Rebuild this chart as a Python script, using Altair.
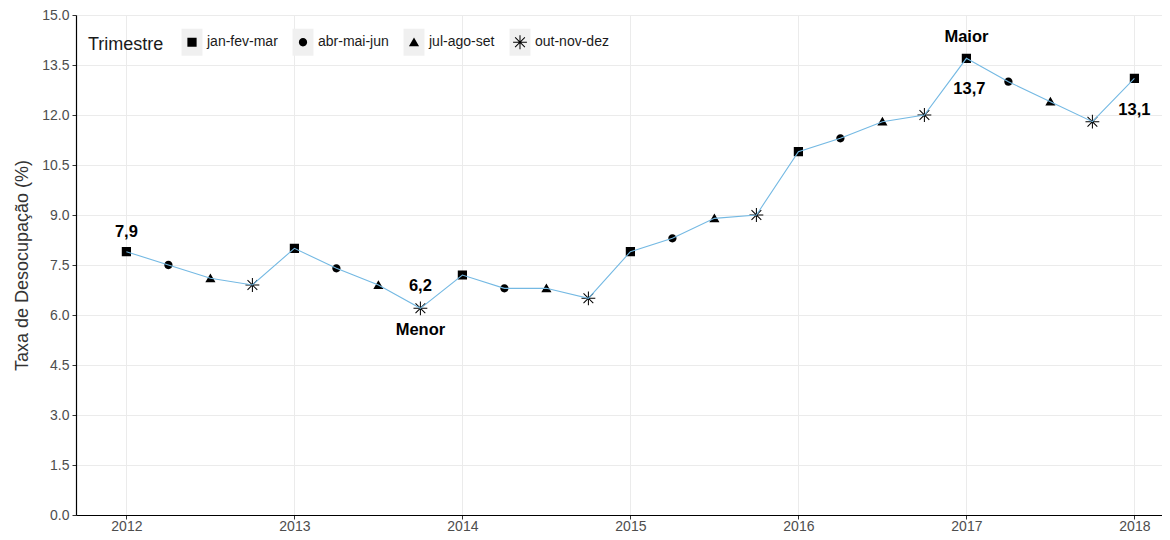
import altair as alt
import pandas as pd

tempo = [2012.0, 2012.25, 2012.5, 2012.75,
         2013.0, 2013.25, 2013.5, 2013.75,
         2014.0, 2014.25, 2014.5, 2014.75,
         2015.0, 2015.25, 2015.5, 2015.75,
         2016.0, 2016.25, 2016.5, 2016.75,
         2017.0, 2017.25, 2017.5, 2017.75,
         2018.0]
taxa = [7.9, 7.5, 7.1, 6.9,
        8.0, 7.4, 6.9, 6.2,
        7.2, 6.8, 6.8, 6.5,
        7.9, 8.3, 8.9, 9.0,
        10.9, 11.3, 11.8, 12.0,
        13.7, 13.0, 12.4, 11.8,
        13.1]
trimestres = ["jan-fev-mar", "abr-mai-jun", "jul-ago-set", "out-nov-dez"]
trimestre = [trimestres[i % 4] for i in range(len(taxa))]

anos_ticks = [2012, 2013, 2014, 2015, 2016, 2017, 2018]
y_ticks = [0.0, 1.5, 3.0, 4.5, 6.0, 7.5, 9.0, 10.5, 12.0, 13.5, 15.0]

ann_t = [2012.0, 2013.75, 2013.75, 2017.0, 2017.0, 2018.0]
ann_v = [7.9, 6.2, 6.2, 13.7, 13.7, 13.1]
ann_txt = ["7,9", "6,2", "Menor", "Maior", "13,7", "13,1"]
ann_dx = [0, 0, 0, 0, 3, 0]
ann_dy = [-20, -22, 22, -21, 31, 32]

df = pd.DataFrame({"tempo": tempo, "taxa": taxa,
                   "Trimestre": trimestre, "fundo": trimestre})

# ---- symbol geometry (styling) ----
SYM = 85
U = SYM ** 0.5 / 2          # px per path unit
BW, BH = 10.5 / U, 13.5 / U  # half width/height of gray legend key box
corners = f"M{-BW:.3f},{-BH:.3f}L{-BW:.3f},{-BH:.3f}M{BW:.3f},{BH:.3f}L{BW:.3f},{BH:.3f}"
sq = "M-1,-1L1,-1L1,1L-1,1Z" + corners
ci = "M0.9,0A0.9,0.9,0,1,1,-0.9,0A0.9,0.9,0,1,1,0.9,0Z" + corners
tr = "M0,-1.05L1.1,0.85L-1.1,0.85Z" + corners
a, t = 1.5, 0.11
d, e = 1.06, 0.078
ast = (f"M{-a},{-t}L{a},{-t}L{a},{t}L{-a},{t}Z"
       f"M{-t},{-a}L{t},{-a}L{t},{a}L{-t},{a}Z"
       f"M{-d+e},{-d-e}L{d+e},{d-e}L{d-e},{d+e}L{-d-e},{-d+e}Z"
       f"M{-d-e},{d-e}L{d-e},{-d-e}L{d+e},{-d+e}L{-d+e},{d+e}Z") + corners
box = f"M{-BW:.3f},{-BH:.3f}L{BW:.3f},{-BH:.3f}L{BW:.3f},{BH:.3f}L{-BW:.3f},{BH:.3f}Z"

PW = 1086
xscale = alt.Scale(domain=[2011.7, 2011.7 + PW / 168.0], nice=False, zero=False)
yscale = alt.Scale(domain=[0, 15], nice=False)

x = alt.X("tempo:Q", scale=xscale,
          axis=alt.Axis(values=anos_ticks, format="d", title=None, labelPadding=0))
y = alt.Y("taxa:Q", scale=yscale,
          axis=alt.Axis(values=y_ticks, format=".1f",
                        title="Taxa de Desocupação (%)", labelPadding=3))

base = alt.Chart(df)

common = dict(orient="none", direction="horizontal", columns=4,
              legendX=12, legendY=20,
              titleOrient="left", title="Trimestre",
              titleFontSize=18, titleFontWeight="normal",
              titleColor="#1a1a1a", titlePadding=21,
              labelFontSize=14, labelColor="#1a1a1a",
              labelOffset=8, columnPadding=14,
              symbolSize=SYM, symbolStrokeWidth=0)

bg = base.mark_point(filled=True, size=0, opacity=1).encode(
    x=x, y=y,
    color=alt.Color("fundo:N",
                    scale=alt.Scale(domain=trimestres, range=["#f0f0f0"] * 4),
                    legend=alt.Legend(symbolType=box, **common)),
)

line = base.mark_line(color="#74b9e3", strokeWidth=1.1).encode(x=x, y=y)

points = base.mark_point(filled=True, color="black", opacity=1, size=SYM,
                         strokeWidth=0).encode(
    x=x, y=y,
    shape=alt.Shape("Trimestre:N",
                    scale=alt.Scale(domain=trimestres, range=[sq, ci, tr, ast]),
                    legend=alt.Legend(symbolFillColor="black",
                                      labelOpacity=0, titleOpacity=0, **common)),
)

def label(tt, v, txt, dx, dy):
    dd = pd.DataFrame({"tempo": [tt], "taxa": [v], "txt": [txt]})
    return alt.Chart(dd).mark_text(fontSize=16.5, fontWeight="bold", color="black",
                                   dx=dx, dy=dy).encode(
        x=alt.X("tempo:Q", scale=xscale), y=alt.Y("taxa:Q", scale=yscale),
        text="txt:N")

labels = [label(tt, v, s, dx, dy) for tt, v, s, dx, dy in
          zip(ann_t, ann_v, ann_txt, ann_dx, ann_dy)]

chart = alt.layer(bg, points, line, *labels).properties(
    width=PW, height=500,
    autosize=alt.AutoSizeParams(type="none"),
    padding={"left": 68, "top": 7, "right": 0, "bottom": 17},
).resolve_legend(color="independent", shape="independent").configure(
    font="Liberation Sans").configure_view(stroke=None).configure_axis(
    grid=True, gridColor="#ebebeb", gridWidth=1,
    domainColor="black", domainWidth=1.2,
    tickColor="#333333", tickSize=4,
    labelColor="#4d4d4d", labelFontSize=14, labelFont="Liberation Sans",
    titleColor="#333333", titleFontSize=18, titleFontWeight="normal",
    titleFont="Liberation Sans", titlePadding=10,
)

chart.save("out.html", embed_options={"renderer": "svg", "actions": False})
